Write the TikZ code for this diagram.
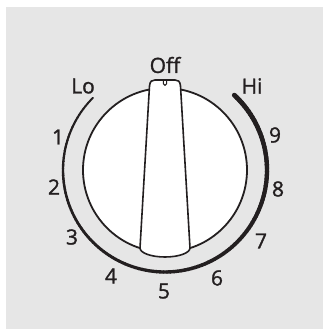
\documentclass[tikz,border=0pt]{standalone}
\usepackage{fontspec}
\newfontfamily\dialfont{Open Sans}[FakeBold=1.3]
\usepackage{xcolor}
\usepackage{tikz}
\definecolor{panelgrey}{RGB}{230,230,230}
\definecolor{inkblack}{RGB}{35,31,32}

\begin{document}
\begin{tikzpicture}[x=1pt, y=1pt, line join=round,
  dialtext/.style={inner sep=0pt, text=inkblack, font=\dialfont\fontsize{21}{21}\selectfont},
  knobline/.style={draw=inkblack, line width=1.8pt, fill=white},
  pointerline/.style={draw=inkblack, line width=1.6pt, fill=white}]
\useasboundingbox (-165,-159) rectangle (158,170);
\fill[panelgrey] (-159,-159) rectangle (158,163);
% scale arc, thin at Lo and thick at Hi
\foreach \a [evaluate=\a as \w using 1.9+2.9*(\a-135)/270] in {135,137,...,405}
  \draw[inkblack, line width=\w pt, line cap=round] (\a:102) arc[start angle=\a, end angle=\a+2.2, radius=102];
% knob
\node[knobline, circle, minimum size=164pt, inner sep=0pt] (knob) at (0,0) {};
\draw[pointerline] (-25,-78) -- (-15.5,84) .. controls (-15,89) and (-13,90) .. (-10,90)
  -- (10,90) .. controls (13,90) and (15,89) .. (15.5,84) -- (25,-78)
  arc[start angle=0, end angle=-180, x radius=25, y radius=9] -- cycle;
\draw[inkblack, line width=1pt] (-1.7,90) -- (-1.7,86.3) arc[start angle=180, end angle=360, radius=1.7] -- (1.7,90);
% labels
\node[dialtext] (off) at (0,105) {Off};
\node[dialtext] (lo) at (-82,84) {Lo};
\node[dialtext] (hi) at (87,84) {Hi};
\node[dialtext] (n1) at (-107,33) {1};
\node[dialtext] (n2) at (-111,-17) {2};
\node[dialtext] (n3) at (-93,-67) {3};
\node[dialtext] (n4) at (-54,-106) {4};
\node[dialtext] (n5) at (-1,-121) {5};
\node[dialtext] (n6) at (52,-108) {6};
\node[dialtext] (n7) at (96,-71) {7};
\node[dialtext] (n8) at (113,-19) {8};
\node[dialtext] (n9) at (110,35) {9};
\end{tikzpicture}
\end{document}
